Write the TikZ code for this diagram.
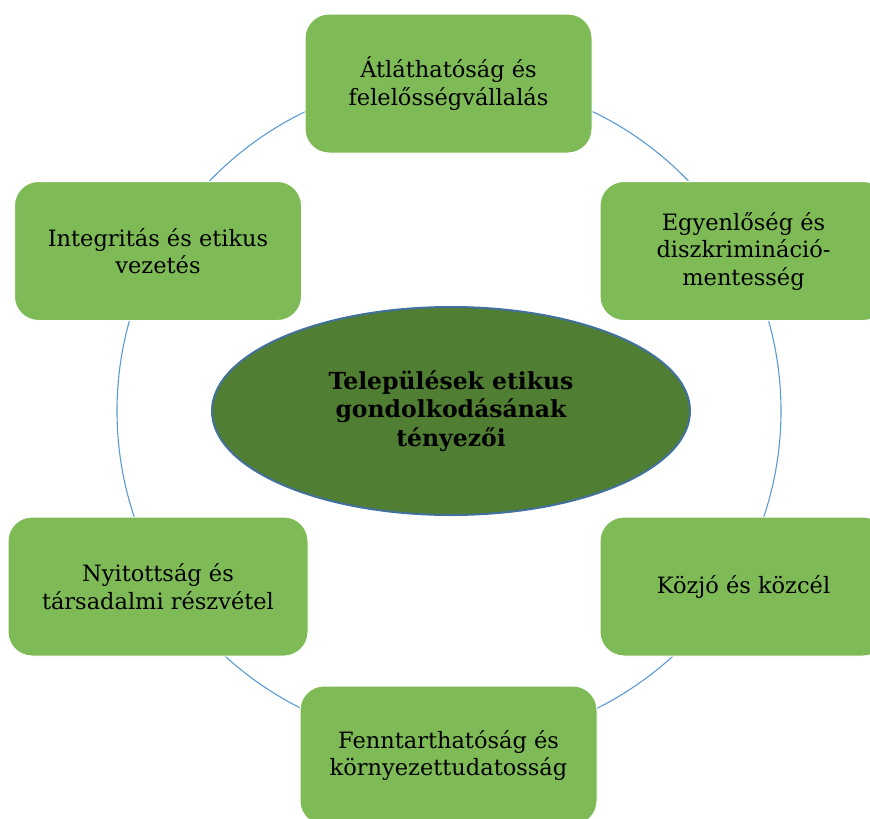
\documentclass[tikz,border=0pt]{standalone}
\usepackage{fontspec}
\setmainfont{DejaVu Serif}
\usetikzlibrary{shapes.geometric}
\definecolor{boxgreen}{HTML}{7EBA56}
\definecolor{hubgreen}{HTML}{507E32}
\definecolor{hubline}{HTML}{41719C}
\definecolor{ringblue}{HTML}{5B9BD5}

\begin{document}
\begin{tikzpicture}[x=1pt,y=-1pt,
  factor/.style={rectangle,rounded corners=24pt,fill=boxgreen,draw=white,line width=1pt,
    minimum width=287pt,minimum height=139pt,align=center,
    font=\fontsize{22.5}{27.5}\selectfont},
  hub/.style={ellipse,fill=hubgreen,draw=hubline,line width=2pt,
    minimum width=478pt,minimum height=208pt,inner sep=0pt,align=center,
    font=\bfseries\fontsize{23.5}{28.5}\selectfont}]
\clip (0,0) rectangle (870,819);
\useasboundingbox (0,0) rectangle (870,819);

\coordinate (ring) at (449,411);
\draw [ringblue,line width=1.1pt] (ring) circle (332pt);
\node [hub] (hub) at (451,411) {Települések etikus\\gondolkodásának\\tényezői};

\node [factor] (top) at (448.5,83.5) {Átláthatóság és\\felelősségvállalás};
\node [factor] (topright) at (743.5,251) {Egyenlőség és\\diszkrimináció-\\mentesség};
\node [factor] (topleft) at (158,251) {Integritás és etikus\\vezetés};
\node [factor,minimum width=300pt] (botleft) at (158,586.5) {Nyitottság és\\társadalmi részvétel};
\node [factor] (botright) at (743.5,586.5) {Közjó és közcél};
\node [factor,minimum width=297pt] (bottom) at (448.5,755.5) {Fenntarthatóság és\\környezettudatosság};

\end{tikzpicture}
\end{document}
